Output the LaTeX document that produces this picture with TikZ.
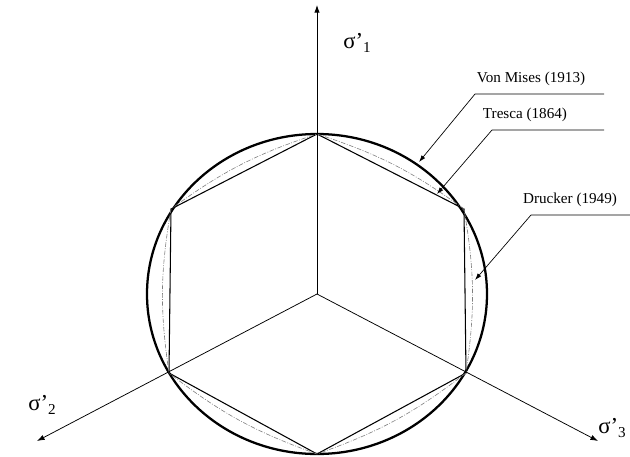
\documentclass[tikz,border=0pt]{standalone}
\usepackage{fontspec}
\setmainfont{Liberation Serif}
\usepackage{tikz}
\usetikzlibrary{arrows.meta}

\newcommand{\sig}[1]{{\fontsize{15}{15}\selectfont σ’}\raisebox{-3pt}{\fontsize{10}{10}\selectfont #1}}

\begin{document}
\begin{tikzpicture}[x=0.66pt,y=0.66pt,
        axis/.style={-{Latex[length=5pt,width=3.5pt]},line width=0.5pt},
        lead/.style={-{Latex[length=4.5pt,width=3pt]},line width=0.45pt},
        lbl/.style={font=\fontsize{10}{12}\selectfont,inner sep=1pt},
        vonmises/.style={line width=1.5pt},
        tresca/.style={line width=0.7pt},
        drucker/.style={line width=0.4pt,gray,
                        dash pattern=on 3pt off 1pt on 0.6pt off 1pt}]
    \useasboundingbox (-317,-162) rectangle (313,294);

    % centre, Tresca corners and axis ends
    \coordinate (o) at (0,0);
    \coordinate (t1) at (0,160);
    \coordinate (t2) at (147,85);
    \coordinate (t3) at (149,-79);
    \coordinate (t4) at (0,-160);
    \coordinate (t5) at (-148,-79);
    \coordinate (t6) at (-146,85);
    \coordinate (e1) at (0,289);
    \coordinate (e2) at (-280,-147);
    \coordinate (e3) at (281,-147);

    % yield surfaces
    \draw[vonmises] (o) ellipse [x radius=170,y radius=160];
    \draw[tresca] (t1) -- (t2) -- (t3) -- (t4) -- (t5) -- (t6) -- cycle;
    \draw[drucker] (t1) to[bend left=9] (t2) to[bend left=9] (t3)
                   to[bend left=9] (t4) to[bend left=9] (t5)
                   to[bend left=9] (t6) to[bend left=9] (t1);

    % axes
    \draw[axis] (o) -- (e1);
    \draw[axis] (o) -- (e2);
    \draw[axis] (o) -- (e3);
    \node[inner sep=0pt] (s1) at (40,251) {\sig{1}};
    \node[inner sep=0pt] (s2) at (-275,-111) {\sig{2}};
    \node[inner sep=0pt] (s3) at (295,-134) {\sig{3}};

    % labels with leaders
    \node[lbl,anchor=south] (vm) at (214,206) {Von Mises (1913)};
    \coordinate (vmL) at (158,200);
    \coordinate (vmR) at (287,200);
    \coordinate (vmT) at (102,132);
    \draw[lead] (vmR) -- (vmL) -- (vmT);

    \node[lbl,anchor=south] (tr) at (208,170) {Tresca (1864)};
    \coordinate (trL) at (175,164);
    \coordinate (trR) at (287,164);
    \coordinate (trT) at (120,100);
    \draw[lead] (trR) -- (trL) -- (trT);

    \node[lbl,anchor=south] (dr) at (253,85) {Drucker (1949)};
    \coordinate (drL) at (214,79);
    \coordinate (drR) at (313,79);
    \coordinate (drT) at (158,14);
    \draw[lead] (drR) -- (drL) -- (drT);
\end{tikzpicture}
\end{document}
